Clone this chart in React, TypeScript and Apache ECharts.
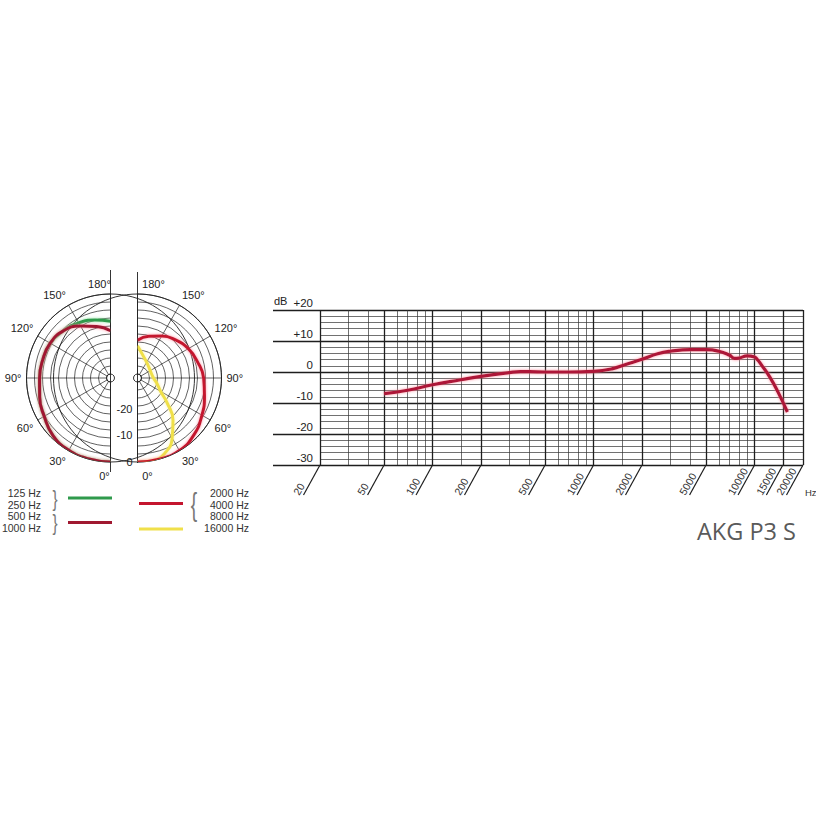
import React, { useEffect, useRef } from 'react';
import * as echarts from 'echarts';

// ---- Polar data (angle in degrees, level in dB) ----
const polarAngles = [0, 15, 30, 45, 60, 75, 90, 105, 120, 135, 150, 165, 180];
const db125_250 = [0, -0.1, -0.2, -1.0, -2.8, -4.0, -4.9, -5.2, -5.4, -6.5, -7.6, -9.0, -10.2];
const db500_1000 = [0, -0.1, -0.2, -1.0, -2.8, -4.0, -4.9, -5.2, -5.4, -6.5, -9.0, -11.5, -13.8];
const db2000_8000 = [0, 0, -0.1, -1.5, -3.6, -5.5, -6.7, -8.2, -9.5, -11.3, -13.3, -15.3, -17.3];
const yellowAngles = [0, 10, 20, 30, 40, 50, 60, 75, 90, 120, 145, 165, 180];
const db16000 = [0, 0, -1.5, -5.5, -10.8, -17, -21.5, -24, -25.5, -26, -25, -23, -19.4];

// ---- Frequency response ----
const freqHz = [50, 70, 100, 150, 200, 300, 350, 400, 500, 700, 1000, 1300, 1600, 2000, 2500, 3000, 4000, 5000, 6000, 7000, 7500, 8000, 9000, 10000, 10500, 11000, 12500, 14000, 16000];
const responseDb = [-7, -5.9, -4.1, -2.5, -1.4, -0.2, 0.1, 0.1, 0, 0, 0.2, 1.0, 2.5, 4.1, 5.9, 6.7, 7.2, 7.2, 6.7, 5.4, 4.4, 4.5, 5.2, 4.8, 3.8, 2.4, -1.8, -6.5, -12.9];

const majorFreqs = [20, 50, 100, 200, 500, 1000, 2000, 5000, 10000, 15000, 20000];
const minorFreqs = [30, 40, 60, 70, 80, 90, 150, 300, 400, 600, 700, 800, 900, 1500, 3000, 4000, 6000, 7000, 8000, 9000];
const polarDbLabels = [-20, -10, 0];

const legendLow = ['125 Hz', '250 Hz', '500 Hz', '1000 Hz'];
const legendHigh = ['2000 Hz', '4000 Hz', '8000 Hz', '16000 Hz'];
const title = 'AKG P3 S';

const FONT = 'Liberation Sans, Arial, Helvetica, sans-serif';
const GRID = '#1e1e1e';
const C_GREEN = '#2f9a4c';
const C_DARKRED = '#a01830';
const C_RED = '#c4152f';
const C_YELLOW = '#f0e04a';

const pairs = (angles: number[], dbs: number[]) => angles.map((a, i) => [dbs[i], a]);

function polarAxes(idx: number, left: boolean) {
  const base = { fontSize: 11, color: '#222', fontFamily: FONT };
  return {
    angle: {
      polarIndex: idx,
      type: 'value',
      min: 0,
      max: 180,
      interval: 30,
      startAngle: left ? 270 : -90,
      endAngle: 90,
      clockwise: left,
      axisLine: { show: true, lineStyle: { color: GRID, width: 0.9 } },
      axisTick: { show: false },
      splitLine: { show: true, lineStyle: { color: GRID, width: 0.7 } },
      axisLabel: {
        formatter: (v: number) => (v === 0 ? '{z|0°}' : v === 180 ? '{t|180°}' : v + '°'),
        margin: 5,
        ...base,
        rich: left
          ? {
              z: { ...base, padding: [3, 12, 0, 0] },
              t: { ...base, padding: [0, 22, 0, 0] },
            }
          : {
              z: { ...base, padding: [3, 0, 0, 20] },
              t: { ...base, padding: [0, 0, 0, 32] },
            },
      },
    },
    radius: {
      polarIndex: idx,
      type: 'value',
      min: -30,
      max: 0,
      interval: 3,
      axisLine: { show: false },
      axisTick: { show: false },
      axisLabel: left
        ? { show: false }
        : {
            show: true,
            customValues: polarDbLabels,
            margin: -5,
            align: 'right',
            verticalAlign: 'middle',
            ...base,
          },
      splitLine: { show: true, lineStyle: { color: GRID, width: 0.7 } },
    },
  };
}

const pL = polarAxes(0, true);
const pR = polarAxes(1, false);

const glow = (c: string) => ({ shadowBlur: 3, shadowColor: c });

function buildOption(): any {
  const graphics: any[] = [];
  // polar centre lines
  graphics.push({ type: 'line', shape: { x1: 110.5, y1: 270, x2: 110.5, y2: 472 }, style: { stroke: GRID, lineWidth: 0.9 } });
  graphics.push({ type: 'line', shape: { x1: 137.5, y1: 272, x2: 137.5, y2: 463 }, style: { stroke: GRID, lineWidth: 0.9 } });
  // legend texts
  const ly = [493, 504.5, 516, 527.5];
  legendLow.forEach((t, i) =>
    graphics.push({ type: 'text', x: 41, y: ly[i], style: { text: t, align: 'right', verticalAlign: 'middle', fontSize: 10.5, fill: '#333', fontFamily: FONT } })
  );
  legendHigh.forEach((t, i) =>
    graphics.push({ type: 'text', x: 249, y: ly[i], style: { text: t, align: 'right', verticalAlign: 'middle', fontSize: 10.5, fill: '#333', fontFamily: FONT } })
  );
  graphics.push({ type: 'text', x: 55, y: 498.5, scaleX: 0.7, style: { text: '}', align: 'center', verticalAlign: 'middle', fontSize: 22, fill: '#777', fontFamily: FONT } });
  graphics.push({ type: 'text', x: 55, y: 522, scaleX: 0.7, style: { text: '}', align: 'center', verticalAlign: 'middle', fontSize: 22, fill: '#777', fontFamily: FONT } });
  graphics.push({ type: 'text', x: 194, y: 504, scaleX: 0.6, style: { text: '{', align: 'center', verticalAlign: 'middle', fontSize: 32, fill: '#777', fontFamily: FONT } });
  graphics.push({ type: 'line', shape: { x1: 68, y1: 498, x2: 112, y2: 498 }, style: { stroke: C_GREEN, lineWidth: 3 } });
  graphics.push({ type: 'line', shape: { x1: 68, y1: 522.5, x2: 112, y2: 522.5 }, style: { stroke: C_DARKRED, lineWidth: 3 } });
  graphics.push({ type: 'line', shape: { x1: 139, y1: 503.5, x2: 183, y2: 503.5 }, style: { stroke: C_RED, lineWidth: 3 } });
  graphics.push({ type: 'line', shape: { x1: 139, y1: 529, x2: 183, y2: 529 }, style: { stroke: C_YELLOW, lineWidth: 3 } });
  // frequency chart texts
  graphics.push({ type: 'text', x: 274, y: 301, style: { text: 'dB', align: 'left', verticalAlign: 'middle', fontSize: 11, fill: '#222', fontFamily: FONT } });
  graphics.push({ type: 'text', x: 805, y: 492, style: { text: 'Hz', align: 'left', verticalAlign: 'middle', fontSize: 9.5, fill: '#333', fontFamily: FONT } });
  graphics.push({ type: 'text', x: 697, y: 531, style: { text: title, align: 'left', verticalAlign: 'middle', fontSize: 23.5, fill: '#5a5a5a', fontFamily: 'Open Sans, Lato, sans-serif' } });

  return {
    animation: false,
    backgroundColor: '#ffffff',
    polar: [
      { center: [110.5, 378], radius: [4, 84] },
      { center: [137.5, 378], radius: [4, 84] },
    ],
    angleAxis: [pL.angle, pR.angle],
    radiusAxis: [pL.radius, pR.radius],
    grid: [
      { left: 320, top: 310, width: 483, height: 155, outerBoundsMode: 'none', containLabel: false },
      { left: 273, top: 310, width: 47, height: 155, outerBoundsMode: 'none', containLabel: false },
    ],
    xAxis: [
      {
        gridIndex: 0, type: 'log', logBase: 10, min: 20, max: 20000,
        axisLine: { show: false }, axisTick: { show: false, customValues: majorFreqs }, axisLabel: { show: false },
        splitLine: { show: true, lineStyle: { color: GRID, width: 1.3 } },
      },
      {
        gridIndex: 0, type: 'log', logBase: 10, min: 20, max: 20000,
        axisLine: { show: false }, axisTick: { show: false, customValues: minorFreqs }, axisLabel: { show: false },
        splitLine: { show: true, lineStyle: { color: '#333', width: 0.7 } },
      },
      { gridIndex: 1, type: 'value', min: 0, max: 1, show: false },
    ],
    yAxis: [
      {
        gridIndex: 0, type: 'value', min: -30, max: 20, interval: 10,
        axisLine: { show: false }, axisTick: { show: false },
        axisLabel: {
          formatter: (v: number) => (v > 0 ? '+' + v : String(v)),
          verticalAlign: 'bottom', margin: 7, fontSize: 11.5, color: '#222', fontFamily: FONT, padding: [0, 0, 1, 0],
        },
        splitLine: { show: true, lineStyle: { color: GRID, width: 1.3 } },
        minorTick: { show: false, splitNumber: 5 },
        minorSplitLine: { show: true, lineStyle: { color: '#333', width: 0.7 } },
      },
      {
        gridIndex: 1, type: 'value', min: -30, max: 20, interval: 10,
        axisLine: { show: false }, axisTick: { show: false }, axisLabel: { show: false },
        splitLine: { show: true, lineStyle: { color: GRID, width: 1.3 } },
      },
    ],
    series: [
      {
        type: 'line', coordinateSystem: 'polar', polarIndex: 0, data: pairs(polarAngles, db125_250),
        smooth: true, showSymbol: false, lineStyle: { color: C_GREEN, width: 3, ...glow('rgba(120,220,140,0.8)') },
      },
      {
        type: 'line', coordinateSystem: 'polar', polarIndex: 0, data: pairs(polarAngles, db500_1000),
        smooth: true, showSymbol: false, lineStyle: { color: C_DARKRED, width: 3, ...glow('rgba(255,120,140,0.8)') },
      },
      {
        type: 'line', coordinateSystem: 'polar', polarIndex: 1, data: pairs(yellowAngles, db16000),
        smooth: true, showSymbol: false, lineStyle: { color: C_YELLOW, width: 3, ...glow('rgba(250,240,150,0.8)') },
      },
      {
        type: 'line', coordinateSystem: 'polar', polarIndex: 1, data: pairs(polarAngles, db2000_8000),
        smooth: true, showSymbol: false, lineStyle: { color: C_RED, width: 3, ...glow('rgba(255,120,140,0.8)') },
      },
      {
        type: 'line', xAxisIndex: 0, yAxisIndex: 0, data: freqHz.map((f, i) => [f, responseDb[i]]),
        smooth: true, showSymbol: false, lineStyle: { color: '#ad1538', width: 3.2, ...glow('rgba(255,120,140,0.8)') },
      },
      {
        type: 'custom', xAxisIndex: 0, yAxisIndex: 0, silent: true, clip: false,
        data: majorFreqs.map((f) => [f, -30]),
        renderItem: (params: any, api: any) => {
          const p = api.coord([api.value(0), api.value(1)]);
          const label = String(majorFreqs[params.dataIndex]);
          return {
            type: 'group',
            children: [
              { type: 'line', shape: { x1: p[0], y1: p[1], x2: p[0] - 16.5, y2: p[1] + 30 }, style: { stroke: GRID, lineWidth: 1.2 } },
              {
                type: 'text', x: p[0] - 19, y: p[1] + 32, rotation: Math.PI / 3,
                style: { text: label, align: 'left', verticalAlign: 'bottom', fontSize: 10.5, fill: '#333', fontFamily: FONT },
              },
            ],
          };
        },
      },
    ],
    graphic: graphics,
  };
}

export default function App() {
  const ref = useRef<HTMLDivElement>(null);
  useEffect(() => {
    document.body.style.margin = '0';
    const chart = echarts.init(ref.current!, null, { renderer: 'svg' });
    chart.setOption(buildOption());
    return () => chart.dispose();
  }, []);
  return <div ref={ref} style={{ width: 816, height: 816 }} />;
}
